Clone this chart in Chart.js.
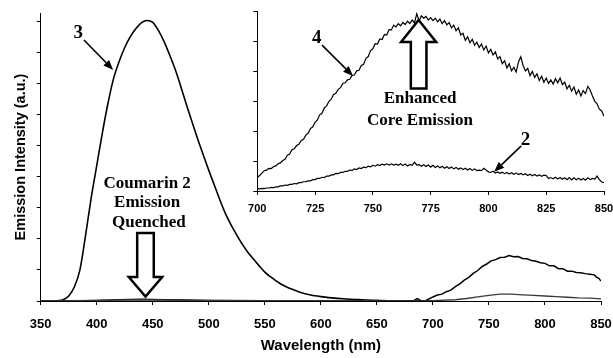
<!DOCTYPE html>
<html>
<head>
<meta charset="utf-8">
<script src="https://cdn.jsdelivr.net/npm/chart.js@4.4.0/dist/chart.umd.min.js"></script>
<style>
  html, body { margin: 0; padding: 0; background: #fff; }
  #wrap { position: relative; width: 613px; height: 358px; }
  #wrap canvas { position: absolute; left: 0; top: 0; }
</style>
</head>
<body>
<div id="wrap">
  <canvas id="main" width="613" height="358"></canvas>
  <canvas id="inset" width="613" height="358"></canvas>
</div>
<script>
// ---- main panel data (350-850 nm) ----
const mainXTicks = [350, 400, 450, 500, 550, 600, 650, 700, 750, 800, 850];
const mainYTicks = [0, 1, 2, 3, 4, 5, 6, 7, 8, 9];

// curve 3 (coumarin dendrimer, strong band)
const wl3 = [350, 360, 365, 370, 375, 380, 385, 390, 395, 400, 405, 410, 415, 420, 425, 430, 435, 440, 445,
             450, 455, 460, 465, 470, 475, 480, 485, 490, 495, 500, 505, 510, 515, 520, 525, 530, 535, 540,
             545, 550, 555, 560, 565, 570, 575, 580, 590, 600, 610, 620, 630, 640, 650, 660, 670, 700];
const spec3 = [0, 0, 0.01, 0.04, 0.16, 0.45, 1.0, 2.1, 3.3, 4.35, 5.4, 6.35, 7.15, 7.7, 8.15, 8.5, 8.76, 8.95, 9.02,
               8.96, 8.7, 8.35, 7.92, 7.45, 6.9, 6.32, 5.76, 5.22, 4.7, 4.2, 3.72, 3.24, 2.8, 2.44, 2.12, 1.82, 1.56, 1.34,
               1.13, 0.93, 0.78, 0.65, 0.53, 0.44, 0.37, 0.3, 0.2, 0.14, 0.1, 0.07, 0.05, 0.03, 0.02, 0.01, 0.005, 0];

// curve 4 on the main scale
const wl4 = [350, 380, 400, 420, 440, 460, 480, 500, 550, 600, 650, 680, 683, 686, 689, 693,
             700, 704, 708, 712, 716, 720, 724, 728, 732, 736, 740, 744, 748, 752, 756, 760, 764, 768,
             772, 776, 780, 784, 788, 792, 796, 800, 804, 808, 812, 816, 820, 824, 828, 832, 836, 840,
             844, 846, 848, 850];
const spec4 = [0, 0, 0.02, 0.04, 0.06, 0.04, 0.03, 0.02, 0.01, 0.01, 0, 0.01, 0.01, 0.08, 0.02, 0,
               0.13, 0.19, 0.22, 0.3, 0.35, 0.46, 0.55, 0.67, 0.76, 0.89, 0.98, 1.11, 1.19, 1.29, 1.33, 1.4, 1.41, 1.46,
               1.42, 1.43, 1.37, 1.36, 1.3, 1.28, 1.23, 1.21, 1.13, 1.13, 1.04, 1.04, 0.96, 0.96, 0.92, 0.91, 0.88, 0.86,
               0.84, 0.77, 0.73, 0.64];

// curve 2 on the main scale
const wl2 = [350, 400, 440, 480, 550, 650, 700, 720, 730, 740, 750, 760, 770, 780, 790, 800, 810, 820, 830, 840, 850];
const spec2 = [0, 0.02, 0.04, 0.02, 0.01, 0.005, 0.01, 0.04, 0.08, 0.13, 0.18, 0.22, 0.22, 0.2, 0.18, 0.16, 0.14, 0.12, 0.1, 0.09, 0.07];

// ---- inset data (700-850 nm, 1 nm steps) ----
const insetXTicks = [700, 725, 750, 775, 800, 825, 850];
const insetYTicks = [0, 1, 2, 3, 4, 5, 6];
const insetWl = [];
for (let w = 700; w <= 850; w++) insetWl.push(w);

const insetSpec4 = [
  0.45, 0.52, 0.6, 0.68, 0.7, 0.76, 0.75, 0.81, 0.84, 0.91, 0.94, 1.02, 1.06, 1.2, 1.24, 1.38, 1.41, 1.52, 1.56, 1.69,
  1.73, 1.87, 1.93, 2.09, 2.15, 2.3, 2.38, 2.55, 2.6, 2.78, 2.85, 3.0, 3.07, 3.23, 3.27, 3.4, 3.46, 3.6, 3.62, 3.72,
  3.74, 3.87, 3.88, 4.02, 4.04, 4.2, 4.24, 4.44, 4.5, 4.7, 4.76, 4.93, 4.92, 5.09, 5.07, 5.24, 5.22, 5.4, 5.39, 5.55,
  5.49, 5.6, 5.53, 5.64, 5.57, 5.68, 5.6, 5.72, 5.63, 5.93, 5.7, 5.86, 5.78, 5.84, 5.72, 5.8, 5.7, 5.78, 5.66, 5.75,
  5.6, 5.7, 5.56, 5.64, 5.46, 5.55, 5.36, 5.46, 5.22, 5.28, 5.04, 5.16, 4.96, 5.08, 4.88, 4.98, 4.8, 4.92, 4.72, 4.85,
  4.62, 4.74, 4.55, 4.66, 4.42, 4.5, 4.26, 4.36, 4.12, 4.26, 4.02, 4.14, 3.98, 4.32, 4.49, 4.2, 4.02, 4.1, 3.86, 4.0,
  3.8, 3.92, 3.7, 3.84, 3.64, 3.78, 3.6, 3.72, 3.58, 3.76, 3.62, 3.78, 3.56, 3.64, 3.42, 3.54, 3.34, 3.48, 3.24, 3.38,
  3.18, 3.36, 3.26, 3.5, 3.38, 3.18, 3.0, 2.92, 2.74, 2.68, 2.5
];
const insetSpec2 = [
  0.08, 0.07, 0.09, 0.08, 0.1, 0.1, 0.12, 0.11, 0.14, 0.14, 0.17, 0.17, 0.2, 0.19, 0.22, 0.22, 0.25, 0.24, 0.28, 0.28,
  0.31, 0.31, 0.34, 0.34, 0.38, 0.38, 0.42, 0.42, 0.46, 0.45, 0.5, 0.5, 0.54, 0.54, 0.59, 0.58, 0.62, 0.62, 0.66, 0.66,
  0.7, 0.69, 0.74, 0.72, 0.77, 0.75, 0.8, 0.78, 0.83, 0.81, 0.86, 0.83, 0.88, 0.85, 0.9, 0.87, 0.91, 0.87, 0.91, 0.87,
  0.9, 0.86, 0.91, 0.85, 0.9, 0.84, 0.89, 0.86, 0.96, 0.87, 0.88, 0.83, 0.88, 0.82, 0.87, 0.8, 0.86, 0.79, 0.84, 0.78,
  0.83, 0.76, 0.81, 0.75, 0.8, 0.74, 0.79, 0.73, 0.77, 0.72, 0.76, 0.7, 0.75, 0.69, 0.74, 0.68, 0.7, 0.68, 0.76, 0.7,
  0.64, 0.62, 0.66, 0.6, 0.64, 0.59, 0.63, 0.58, 0.62, 0.57, 0.61, 0.56, 0.6, 0.55, 0.59, 0.54, 0.58, 0.52, 0.56, 0.51,
  0.55, 0.5, 0.54, 0.49, 0.53, 0.52, 0.42, 0.45, 0.41, 0.46, 0.4, 0.45, 0.39, 0.44, 0.38, 0.45, 0.37, 0.44, 0.38, 0.43,
  0.37, 0.42, 0.36, 0.44, 0.38, 0.42, 0.4, 0.5, 0.38, 0.3, 0.28
];

const SANS = "'Liberation Sans', Arial, sans-serif";
const SERIF = "'Liberation Serif', 'Times New Roman', serif";

function pts(xs, ys) {
  return xs.map((x, i) => ({ x: x, y: ys[i] }));
}

function lineSet(xs, ys, color, width, smooth) {
  return {
    data: pts(xs, ys),
    borderColor: color,
    borderWidth: width,
    pointRadius: 0,
    fill: false,
    tension: smooth ? 0.4 : 0,
    cubicInterpolationMode: smooth ? 'monotone' : 'default'
  };
}

// axis with black border and outward tick marks only
function axis(min, max, tickVals, extra) {
  return Object.assign({
    type: 'linear',
    min: min,
    max: max,
    border: { color: '#000', width: 1 },
    grid: { display: true, drawOnChartArea: false, drawTicks: true, tickLength: 4, color: '#000', lineWidth: 1 },
    afterBuildTicks: s => { s.ticks = tickVals.map(v => ({ value: v })); }
  }, extra);
}

// --- drawing helpers for the annotations ---
function solidArrow(ctx, x1, y1, x2, y2) {
  const a = Math.atan2(y2 - y1, x2 - x1);
  const len = 10, half = 4;
  const bx = x2 - len * Math.cos(a), by = y2 - len * Math.sin(a);
  ctx.save();
  ctx.strokeStyle = '#000';
  ctx.fillStyle = '#000';
  ctx.lineWidth = 1.6;
  ctx.beginPath();
  ctx.moveTo(x1, y1);
  ctx.lineTo(bx, by);
  ctx.stroke();
  ctx.beginPath();
  ctx.moveTo(x2, y2);
  ctx.lineTo(bx + half * Math.sin(a), by - half * Math.cos(a));
  ctx.lineTo(bx - half * Math.sin(a), by + half * Math.cos(a));
  ctx.closePath();
  ctx.fill();
  ctx.restore();
}

function hollowArrow(ctx, cx, tipY, headY, tailY, shaftHalf, headHalf) {
  ctx.save();
  ctx.strokeStyle = '#000';
  ctx.fillStyle = '#fff';
  ctx.lineWidth = 2.5;
  ctx.lineJoin = 'miter';
  ctx.beginPath();
  ctx.moveTo(cx, tipY);
  ctx.lineTo(cx + headHalf, headY);
  ctx.lineTo(cx + shaftHalf, headY);
  ctx.lineTo(cx + shaftHalf, tailY);
  ctx.lineTo(cx - shaftHalf, tailY);
  ctx.lineTo(cx - shaftHalf, headY);
  ctx.lineTo(cx - headHalf, headY);
  ctx.closePath();
  ctx.fill();
  ctx.stroke();
  ctx.restore();
}

function label(ctx, text, x, y, size) {
  ctx.save();
  ctx.fillStyle = '#000';
  ctx.font = 'bold ' + size + 'px ' + SERIF;
  ctx.textAlign = 'center';
  ctx.textBaseline = 'middle';
  ctx.fillText(text, x, y);
  ctx.restore();
}

// annotations, positioned in data units
const mainNotes = {
  hollow: { x: 443.5, tip: 0.14, head: 0.77, tail: 2.19, shaftHalf: 8.3, headHalf: 16.7 },
  arrows: [{ from: [388.6, 8.39], to: [414.7, 7.43] }],
  texts: [
    { t: '3', x: 383.5, y: 8.61, size: 19 },
    { t: 'Coumarin 2', x: 445, y: 3.79, size: 17 },
    { t: 'Emission', x: 445, y: 3.15, size: 17 },
    { t: 'Quenched', x: 446.5, y: 2.51, size: 17 }
  ]
};
const insetNotes = {
  hollow: { x: 769.8, tip: 5.72, head: 4.99, tail: 3.43, shaftHalf: 7.8, headHalf: 17.5 },
  arrows: [
    { from: [728, 4.88], to: [741.4, 3.85] },
    { from: [814.2, 1.51], to: [802.5, 0.64] }
  ],
  texts: [
    { t: '4', x: 725.7, y: 5.11, size: 19 },
    { t: 'Enhanced', x: 770.4, y: 3.1, size: 17 },
    { t: 'Core Emission', x: 770.4, y: 2.37, size: 17 },
    { t: '2', x: 816, y: 1.71, size: 19 }
  ]
};

function notesPlugin(notes) {
  return {
    id: 'notes',
    beforeDatasetsDraw(chart) {
      const { ctx, scales: { x, y } } = chart;
      const h = notes.hollow;
      hollowArrow(ctx, x.getPixelForValue(h.x), y.getPixelForValue(h.tip), y.getPixelForValue(h.head),
                  y.getPixelForValue(h.tail), h.shaftHalf, h.headHalf);
    },
    afterDatasetsDraw(chart) {
      const { ctx, scales: { x, y } } = chart;
      notes.arrows.forEach(a => {
        solidArrow(ctx, x.getPixelForValue(a.from[0]), y.getPixelForValue(a.from[1]),
                   x.getPixelForValue(a.to[0]), y.getPixelForValue(a.to[1]));
      });
      notes.texts.forEach(t => label(ctx, t.t, x.getPixelForValue(t.x), y.getPixelForValue(t.y), t.size));
    }
  };
}

const common = {
  responsive: false,
  animation: false,
  events: [],
  plugins: { legend: { display: false }, tooltip: { enabled: false } }
};

// main chart
new Chart(document.getElementById('main'), {
  type: 'line',
  data: {
    datasets: [
      lineSet(wl2, spec2, '#3a3a3a', 1.3, false),
      lineSet(wl4, spec4, '#000', 1.5, false),
      lineSet(wl3, spec3, '#000', 1.6, true)
    ]
  },
  options: Object.assign({}, common, {
    layout: { padding: { left: 0, right: 12, top: 13, bottom: 0 } },
    scales: {
      x: axis(350, 850, mainXTicks, {
        ticks: { color: '#000', font: { family: SANS, size: 13, weight: 'bold' }, padding: 12, maxRotation: 0, autoSkip: false },
        title: { display: true, text: 'Wavelength (nm)', color: '#000',
                 font: { family: SANS, size: 15, weight: 'bold' }, padding: { top: 0, bottom: 3 } },
        afterFit: s => { s.height = 57; s.paddingLeft = 0; s.paddingRight = 0; }
      }),
      y: axis(0, 9.26, mainYTicks, {
        ticks: { display: false },
        title: { display: true, text: 'Emission Intensity (a.u.)', color: '#000',
                 font: { family: SANS, size: 14.5, weight: 'bold' }, padding: { top: 12, bottom: 0 } },
        afterFit: s => { s.width = 40.7; }
      })
    }
  }),
  plugins: [notesPlugin(mainNotes)]
});

// inset chart, overlaid on the upper right
new Chart(document.getElementById('inset'), {
  type: 'line',
  data: {
    datasets: [
      lineSet(insetWl, insetSpec2, '#000', 1.2, false),
      lineSet(insetWl, insetSpec4, '#000', 1.2, false)
    ]
  },
  options: Object.assign({}, common, {
    layout: { padding: { left: 252.3, right: 9, top: 11.7, bottom: 145 } },
    scales: {
      x: axis(700, 850, insetXTicks, {
        ticks: { color: '#000', font: { family: SANS, size: 11, weight: 'bold' }, padding: 7, maxRotation: 0, autoSkip: false },
        afterFit: s => { s.height = 22; s.paddingLeft = 0; s.paddingRight = 0; }
      }),
      y: axis(0, 6, insetYTicks, {
        ticks: { display: false },
        afterFit: s => { s.width = 5; s.paddingTop = 0; s.paddingBottom = 0; }
      })
    }
  }),
  plugins: [notesPlugin(insetNotes)]
});
</script>
</body>
</html>
